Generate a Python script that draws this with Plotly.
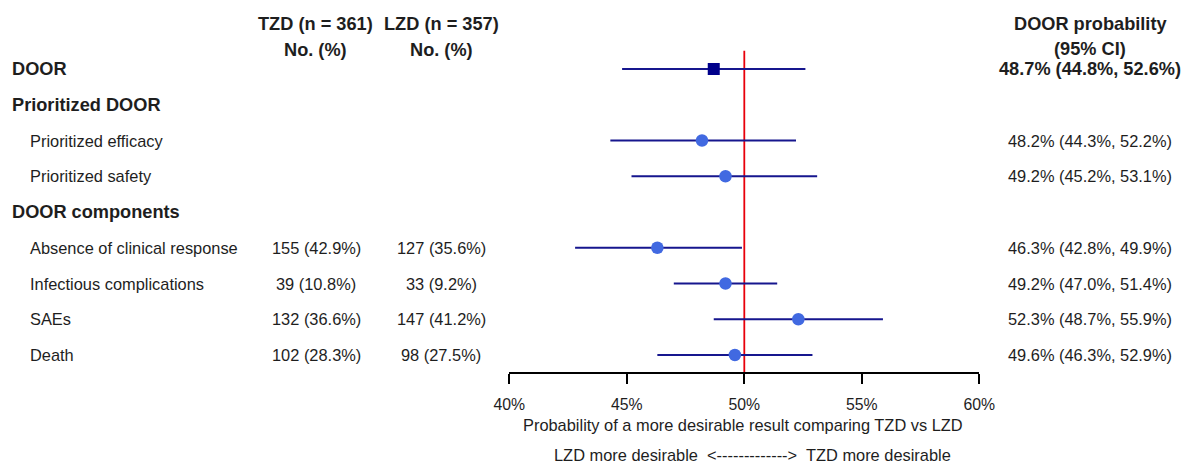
import plotly.graph_objects as go

# ---- data ----
row_labels = ["DOOR", "Prioritized DOOR", "Prioritized efficacy", "Prioritized safety",
              "DOOR components", "Absence of clinical response", "Infectious complications",
              "SAEs", "Death"]
row_bold = [True, True, False, False, True, False, False, False, False]
tzd_counts = ["", "", "", "", "", "155 (42.9%)", "39 (10.8%)", "132 (36.6%)", "102 (28.3%)"]
lzd_counts = ["", "", "", "", "", "127 (35.6%)", "33 (9.2%)", "147 (41.2%)", "98 (27.5%)"]
est = [48.7, None, 48.2, 49.2, None, 46.3, 49.2, 52.3, 49.6]
lo = [44.8, None, 44.3, 45.2, None, 42.8, 47.0, 48.7, 46.3]
hi = [52.6, None, 52.2, 53.1, None, 49.9, 51.4, 55.9, 52.9]
tick_vals = [40, 45, 50, 55, 60]
tick_text = ["40%", "45%", "50%", "55%", "60%"]
header_tzd = ["TZD (n = 361)", "No. (%)"]
header_lzd = ["LZD (n = 357)", "No. (%)"]
header_prob = ["DOOR probability", "(95% CI)"]
axis_title = "Probability of a more desirable result comparing TZD vs LZD"
direction_note = "LZD more desirable  <------------->  TZD more desirable"

W, H = 1194, 463
OFF = 8                      # page body margin of the browser
ROW0, STEP = 69 - OFF, 35.75


def row_of(py):               # window pixel y -> row coordinate
    return (py - OFF - ROW0) / STEP


def xp(px):                   # window pixel x -> paper x
    return (px - OFF) / W


def yp(py):                   # window pixel y -> paper y
    return 1 - (py - OFF) / H


NAVY_LINE = "#16168e"
NAVY = "#00008B"
ROYAL = "#4169E1"
TXT = "#1e1e1e"
FONT = "Liberation Sans, Arial, sans-serif"
FS, FB = 16.4, 18.2

fig = go.Figure()

idx_sq = [0]
fig.add_trace(go.Scatter(
    x=[est[i] for i in idx_sq], y=idx_sq, mode="markers",
    marker=dict(symbol="square", size=12, color=NAVY),
    error_x=dict(type="data", symmetric=False,
                 array=[hi[i] - est[i] for i in idx_sq],
                 arrayminus=[est[i] - lo[i] for i in idx_sq],
                 color=NAVY_LINE, thickness=2.2, width=0),
    showlegend=False, hoverinfo="skip"))

idx_c = [i for i in range(len(est)) if est[i] is not None and i != 0]
fig.add_trace(go.Scatter(
    x=[est[i] for i in idx_c], y=idx_c, mode="markers",
    marker=dict(symbol="circle", size=12.5, color=ROYAL),
    error_x=dict(type="data", symmetric=False,
                 array=[hi[i] - est[i] for i in idx_c],
                 arrayminus=[est[i] - lo[i] for i in idx_c],
                 color=NAVY_LINE, thickness=2.2, width=0),
    showlegend=False, hoverinfo="skip"))

shapes = [dict(type="line", xref="x", yref="y", x0=50, x1=50,
               y0=row_of(50.7), y1=row_of(372.7), line=dict(color="#e8000b", width=1.8),
               layer="below")]

ann = []


def add_text(txt, px, row, bold=False, anchor="left", size=FS):
    ann.append(dict(text=f"<b>{txt}</b>" if bold else txt, x=xp(px), xref="paper",
                    y=row, yref="y", xanchor=anchor, yanchor="middle", showarrow=False,
                    font=dict(family=FONT, size=size, color=TXT)))


for i, lab in enumerate(row_labels):
    add_text(lab, 10 if row_bold[i] else 28, i, bold=row_bold[i], size=FB if row_bold[i] else FS)
    if tzd_counts[i]:
        add_text(tzd_counts[i], 316, i, anchor="center")
    if lzd_counts[i]:
        add_text(lzd_counts[i], 441, i, anchor="center")
    if est[i] is not None:
        s = f"{est[i]:.1f}% ({lo[i]:.1f}%, {hi[i]:.1f}%)"
        add_text(s, 1089.5, i, bold=(i == 0), anchor="center", size=FB if i == 0 else FS)

for k, py in enumerate([23.5, 49.5]):
    add_text(header_tzd[k], 315, row_of(py), bold=True, anchor="center", size=FB)
    add_text(header_lzd[k], 441, row_of(py), bold=True, anchor="center", size=FB)
for k, py in enumerate([24, 48.5]):
    add_text(header_prob[k], 1090, row_of(py), bold=True, anchor="center", size=FB)

for txt, cx, py in [(axis_title, 742.5, 425), (direction_note, 752, 455)]:
    ann.append(dict(text=txt, x=xp(cx), xref="paper", y=yp(py), yref="paper",
                    xanchor="center", yanchor="middle", showarrow=False,
                    font=dict(family=FONT, size=FS, color=TXT)))

fig.update_layout(
    width=W, height=H, margin=dict(l=0, r=0, t=0, b=0, autoexpand=False),
    template="none",
    paper_bgcolor="white", plot_bgcolor="white",
    shapes=shapes, annotations=ann, showlegend=False,
    xaxis=dict(domain=[xp(509.3), xp(979.3)], range=[40, 60], autorange=False,
               tickvals=tick_vals, ticktext=tick_text, ticks="outside", ticklen=10,
               tickwidth=1.6, tickcolor="black", showline=True, linecolor="black",
               linewidth=1.6, showgrid=False, zeroline=False, anchor="free",
               automargin=False, position=yp(372.7), ticklabelstandoff=8,
               tickfont=dict(family=FONT, size=15.8, color=TXT)),
    yaxis=dict(domain=[0, 1], range=[row_of(H + OFF), row_of(OFF)], autorange=False,
               visible=False, showgrid=False, zeroline=False, automargin=False),
)

fig.write_html("out.html")
